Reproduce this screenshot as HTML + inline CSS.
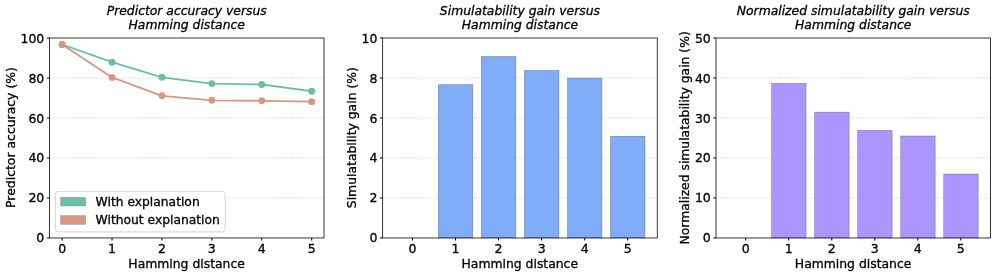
<!DOCTYPE html>
<html><head><meta charset="utf-8"><title>Hamming distance plots</title>
<style>
html,body{margin:0;padding:0;background:#fff;}
svg{display:block}
text{font-family:"DejaVu Sans", "Liberation Sans", sans-serif;fill:#000;stroke:#000;stroke-width:0.3px}
.tk{font-size:12.5px}
.lb{font-size:12.33px}
.tt{font-size:12.37px;font-style:italic}
.lg{font-size:12.3px}
</style></head><body>
<svg width="996" height="276" viewBox="0 0 996 276">
<rect width="996" height="276" fill="#fff"/>
<line x1="49.50" x2="324.00" y1="197.96" y2="197.96" stroke="#cccccc" stroke-width="0.8" stroke-dasharray="1 1.03"/>
<line x1="49.50" x2="324.00" y1="157.97" y2="157.97" stroke="#cccccc" stroke-width="0.8" stroke-dasharray="1 1.03"/>
<line x1="49.50" x2="324.00" y1="117.98" y2="117.98" stroke="#cccccc" stroke-width="0.8" stroke-dasharray="1 1.03"/>
<line x1="49.50" x2="324.00" y1="77.99" y2="77.99" stroke="#cccccc" stroke-width="0.8" stroke-dasharray="1 1.03"/>
<polyline points="62.13,44.50 112.04,62.20 161.95,77.30 211.85,83.60 261.76,84.50 311.67,91.20" fill="none" stroke="#6abfa8" stroke-width="1.8" stroke-linejoin="round"/>
<circle cx="62.13" cy="44.50" r="3.45" fill="#6abfa8"/>
<circle cx="112.04" cy="62.20" r="3.45" fill="#6abfa8"/>
<circle cx="161.95" cy="77.30" r="3.45" fill="#6abfa8"/>
<circle cx="211.85" cy="83.60" r="3.45" fill="#6abfa8"/>
<circle cx="261.76" cy="84.50" r="3.45" fill="#6abfa8"/>
<circle cx="311.67" cy="91.20" r="3.45" fill="#6abfa8"/>
<polyline points="62.13,44.50 112.04,77.40 161.95,95.80 211.85,100.30 261.76,100.80 311.67,101.65" fill="none" stroke="#d99680" stroke-width="1.8" stroke-linejoin="round"/>
<circle cx="62.13" cy="44.50" r="3.45" fill="#d99680"/>
<circle cx="112.04" cy="77.40" r="3.45" fill="#d99680"/>
<circle cx="161.95" cy="95.80" r="3.45" fill="#d99680"/>
<circle cx="211.85" cy="100.30" r="3.45" fill="#d99680"/>
<circle cx="261.76" cy="100.80" r="3.45" fill="#d99680"/>
<circle cx="311.67" cy="101.65" r="3.45" fill="#d99680"/>
<rect x="49.50" y="38.00" width="274.50" height="199.95" fill="none" stroke="#222" stroke-width="0.9"/>
<line x1="62.13" x2="62.13" y1="237.95" y2="240.55" stroke="#111" stroke-width="1.1"/>
<text class="tk" x="62.13" y="252.75" text-anchor="middle">0</text>
<line x1="112.04" x2="112.04" y1="237.95" y2="240.55" stroke="#111" stroke-width="1.1"/>
<text class="tk" x="112.04" y="252.75" text-anchor="middle">1</text>
<line x1="161.95" x2="161.95" y1="237.95" y2="240.55" stroke="#111" stroke-width="1.1"/>
<text class="tk" x="161.95" y="252.75" text-anchor="middle">2</text>
<line x1="211.85" x2="211.85" y1="237.95" y2="240.55" stroke="#111" stroke-width="1.1"/>
<text class="tk" x="211.85" y="252.75" text-anchor="middle">3</text>
<line x1="261.76" x2="261.76" y1="237.95" y2="240.55" stroke="#111" stroke-width="1.1"/>
<text class="tk" x="261.76" y="252.75" text-anchor="middle">4</text>
<line x1="311.67" x2="311.67" y1="237.95" y2="240.55" stroke="#111" stroke-width="1.1"/>
<text class="tk" x="311.67" y="252.75" text-anchor="middle">5</text>
<line x1="46.90" x2="49.50" y1="237.95" y2="237.95" stroke="#111" stroke-width="1.1"/>
<text class="tk" x="44.30" y="242.20" text-anchor="end">0</text>
<line x1="46.90" x2="49.50" y1="197.96" y2="197.96" stroke="#111" stroke-width="1.1"/>
<text class="tk" x="44.30" y="202.31" text-anchor="end">20</text>
<line x1="46.90" x2="49.50" y1="157.97" y2="157.97" stroke="#111" stroke-width="1.1"/>
<text class="tk" x="44.30" y="162.42" text-anchor="end">40</text>
<line x1="46.90" x2="49.50" y1="117.98" y2="117.98" stroke="#111" stroke-width="1.1"/>
<text class="tk" x="44.30" y="122.53" text-anchor="end">60</text>
<line x1="46.90" x2="49.50" y1="77.99" y2="77.99" stroke="#111" stroke-width="1.1"/>
<text class="tk" x="44.30" y="82.64" text-anchor="end">80</text>
<line x1="46.90" x2="49.50" y1="38.00" y2="38.00" stroke="#111" stroke-width="1.1"/>
<text class="tk" x="44.30" y="42.75" text-anchor="end">100</text>
<text class="tt" x="186.75" y="14.5" text-anchor="middle">Predictor accuracy versus</text>
<text class="tt" x="186.75" y="28.5" text-anchor="middle">Hamming distance</text>
<text class="lb" style="font-size:12.39px" x="186.60" y="267.5" text-anchor="middle">Hamming distance</text>
<text class="lb" style="font-size:12.42px" transform="translate(15.10,137.53) rotate(-90)" text-anchor="middle">Predictor accuracy (%)</text>
<rect x="55.4" y="191.4" width="169.8" height="40.5" rx="2.5" fill="#fff" fill-opacity="0.8" stroke="#d0d0d0" stroke-width="0.9"/>
<rect x="60.6" y="197.3" width="25.1" height="8.7" fill="#6abfa8" stroke="#999" stroke-width="0.5"/>
<rect x="60.6" y="215.6" width="25.1" height="8.7" fill="#d99680" stroke="#999" stroke-width="0.5"/>
<text class="lg" x="95.6" y="206.0">With explanation</text>
<text class="lg" x="95.6" y="224.4">Without explanation</text>
<line x1="382.60" x2="657.30" y1="197.96" y2="197.96" stroke="#cccccc" stroke-width="0.8" stroke-dasharray="1 1.03"/>
<line x1="382.60" x2="657.30" y1="157.97" y2="157.97" stroke="#cccccc" stroke-width="0.8" stroke-dasharray="1 1.03"/>
<line x1="382.60" x2="657.30" y1="117.98" y2="117.98" stroke="#cccccc" stroke-width="0.8" stroke-dasharray="1 1.03"/>
<line x1="382.60" x2="657.30" y1="77.99" y2="77.99" stroke="#cccccc" stroke-width="0.8" stroke-dasharray="1 1.03"/>
<rect x="438.29" y="84.70" width="34.45" height="153.25" fill="#80acfa" stroke="#444" stroke-opacity="0.55" stroke-width="0.6"/>
<rect x="481.35" y="56.50" width="34.45" height="181.45" fill="#80acfa" stroke="#444" stroke-opacity="0.55" stroke-width="0.6"/>
<rect x="524.41" y="70.50" width="34.45" height="167.45" fill="#80acfa" stroke="#444" stroke-opacity="0.55" stroke-width="0.6"/>
<rect x="567.46" y="78.10" width="34.45" height="159.85" fill="#80acfa" stroke="#444" stroke-opacity="0.55" stroke-width="0.6"/>
<rect x="610.52" y="136.30" width="34.45" height="101.65" fill="#80acfa" stroke="#444" stroke-opacity="0.55" stroke-width="0.6"/>
<rect x="382.60" y="38.00" width="274.70" height="199.95" fill="none" stroke="#222" stroke-width="0.9"/>
<line x1="412.46" x2="412.46" y1="237.95" y2="240.55" stroke="#111" stroke-width="1.1"/>
<text class="tk" x="412.46" y="252.75" text-anchor="middle">0</text>
<line x1="455.52" x2="455.52" y1="237.95" y2="240.55" stroke="#111" stroke-width="1.1"/>
<text class="tk" x="455.52" y="252.75" text-anchor="middle">1</text>
<line x1="498.57" x2="498.57" y1="237.95" y2="240.55" stroke="#111" stroke-width="1.1"/>
<text class="tk" x="498.57" y="252.75" text-anchor="middle">2</text>
<line x1="541.63" x2="541.63" y1="237.95" y2="240.55" stroke="#111" stroke-width="1.1"/>
<text class="tk" x="541.63" y="252.75" text-anchor="middle">3</text>
<line x1="584.68" x2="584.68" y1="237.95" y2="240.55" stroke="#111" stroke-width="1.1"/>
<text class="tk" x="584.68" y="252.75" text-anchor="middle">4</text>
<line x1="627.74" x2="627.74" y1="237.95" y2="240.55" stroke="#111" stroke-width="1.1"/>
<text class="tk" x="627.74" y="252.75" text-anchor="middle">5</text>
<line x1="380.00" x2="382.60" y1="237.95" y2="237.95" stroke="#111" stroke-width="1.1"/>
<text class="tk" x="377.40" y="242.20" text-anchor="end">0</text>
<line x1="380.00" x2="382.60" y1="197.96" y2="197.96" stroke="#111" stroke-width="1.1"/>
<text class="tk" x="377.40" y="202.31" text-anchor="end">2</text>
<line x1="380.00" x2="382.60" y1="157.97" y2="157.97" stroke="#111" stroke-width="1.1"/>
<text class="tk" x="377.40" y="162.42" text-anchor="end">4</text>
<line x1="380.00" x2="382.60" y1="117.98" y2="117.98" stroke="#111" stroke-width="1.1"/>
<text class="tk" x="377.40" y="122.53" text-anchor="end">6</text>
<line x1="380.00" x2="382.60" y1="77.99" y2="77.99" stroke="#111" stroke-width="1.1"/>
<text class="tk" x="377.40" y="82.64" text-anchor="end">8</text>
<line x1="380.00" x2="382.60" y1="38.00" y2="38.00" stroke="#111" stroke-width="1.1"/>
<text class="tk" x="377.40" y="42.75" text-anchor="end">10</text>
<text class="tt" x="519.95" y="14.5" text-anchor="middle">Simulatability gain versus</text>
<text class="tt" x="519.95" y="28.5" text-anchor="middle">Hamming distance</text>
<text class="lb" style="font-size:12.39px" x="519.80" y="267.5" text-anchor="middle">Hamming distance</text>
<text class="lb" style="font-size:12.38px" transform="translate(356.20,137.67) rotate(-90)" text-anchor="middle">Simulatability gain (%)</text>
<line x1="716.00" x2="990.50" y1="197.96" y2="197.96" stroke="#cccccc" stroke-width="0.8" stroke-dasharray="1 1.03"/>
<line x1="716.00" x2="990.50" y1="157.97" y2="157.97" stroke="#cccccc" stroke-width="0.8" stroke-dasharray="1 1.03"/>
<line x1="716.00" x2="990.50" y1="117.98" y2="117.98" stroke="#cccccc" stroke-width="0.8" stroke-dasharray="1 1.03"/>
<line x1="716.00" x2="990.50" y1="77.99" y2="77.99" stroke="#cccccc" stroke-width="0.8" stroke-dasharray="1 1.03"/>
<rect x="771.65" y="83.50" width="34.42" height="154.45" fill="#aa96fe" stroke="#444" stroke-opacity="0.55" stroke-width="0.6"/>
<rect x="814.68" y="112.15" width="34.42" height="125.80" fill="#aa96fe" stroke="#444" stroke-opacity="0.55" stroke-width="0.6"/>
<rect x="857.70" y="130.45" width="34.42" height="107.50" fill="#aa96fe" stroke="#444" stroke-opacity="0.55" stroke-width="0.6"/>
<rect x="900.73" y="136.00" width="34.42" height="101.95" fill="#aa96fe" stroke="#444" stroke-opacity="0.55" stroke-width="0.6"/>
<rect x="943.75" y="174.00" width="34.42" height="63.95" fill="#aa96fe" stroke="#444" stroke-opacity="0.55" stroke-width="0.6"/>
<rect x="716.00" y="38.00" width="274.50" height="199.95" fill="none" stroke="#222" stroke-width="0.9"/>
<line x1="745.69" x2="745.69" y1="237.95" y2="240.55" stroke="#111" stroke-width="1.1"/>
<text class="tk" x="745.69" y="252.75" text-anchor="middle">0</text>
<line x1="788.71" x2="788.71" y1="237.95" y2="240.55" stroke="#111" stroke-width="1.1"/>
<text class="tk" x="788.71" y="252.75" text-anchor="middle">1</text>
<line x1="831.74" x2="831.74" y1="237.95" y2="240.55" stroke="#111" stroke-width="1.1"/>
<text class="tk" x="831.74" y="252.75" text-anchor="middle">2</text>
<line x1="874.76" x2="874.76" y1="237.95" y2="240.55" stroke="#111" stroke-width="1.1"/>
<text class="tk" x="874.76" y="252.75" text-anchor="middle">3</text>
<line x1="917.79" x2="917.79" y1="237.95" y2="240.55" stroke="#111" stroke-width="1.1"/>
<text class="tk" x="917.79" y="252.75" text-anchor="middle">4</text>
<line x1="960.81" x2="960.81" y1="237.95" y2="240.55" stroke="#111" stroke-width="1.1"/>
<text class="tk" x="960.81" y="252.75" text-anchor="middle">5</text>
<line x1="713.40" x2="716.00" y1="237.95" y2="237.95" stroke="#111" stroke-width="1.1"/>
<text class="tk" x="710.80" y="242.20" text-anchor="end">0</text>
<line x1="713.40" x2="716.00" y1="197.96" y2="197.96" stroke="#111" stroke-width="1.1"/>
<text class="tk" x="710.80" y="202.31" text-anchor="end">10</text>
<line x1="713.40" x2="716.00" y1="157.97" y2="157.97" stroke="#111" stroke-width="1.1"/>
<text class="tk" x="710.80" y="162.42" text-anchor="end">20</text>
<line x1="713.40" x2="716.00" y1="117.98" y2="117.98" stroke="#111" stroke-width="1.1"/>
<text class="tk" x="710.80" y="122.53" text-anchor="end">30</text>
<line x1="713.40" x2="716.00" y1="77.99" y2="77.99" stroke="#111" stroke-width="1.1"/>
<text class="tk" x="710.80" y="82.64" text-anchor="end">40</text>
<line x1="713.40" x2="716.00" y1="38.00" y2="38.00" stroke="#111" stroke-width="1.1"/>
<text class="tk" x="710.80" y="42.75" text-anchor="end">50</text>
<text class="tt" x="853.25" y="14.5" text-anchor="middle">Normalized simulatability gain versus</text>
<text class="tt" x="853.25" y="28.5" text-anchor="middle">Hamming distance</text>
<text class="lb" style="font-size:12.39px" x="853.10" y="267.5" text-anchor="middle">Hamming distance</text>
<text class="lb" style="font-size:12.35px" transform="translate(689.30,137.88) rotate(-90)" text-anchor="middle">Normalized simulatability gain (%)</text>
</svg></body></html>
